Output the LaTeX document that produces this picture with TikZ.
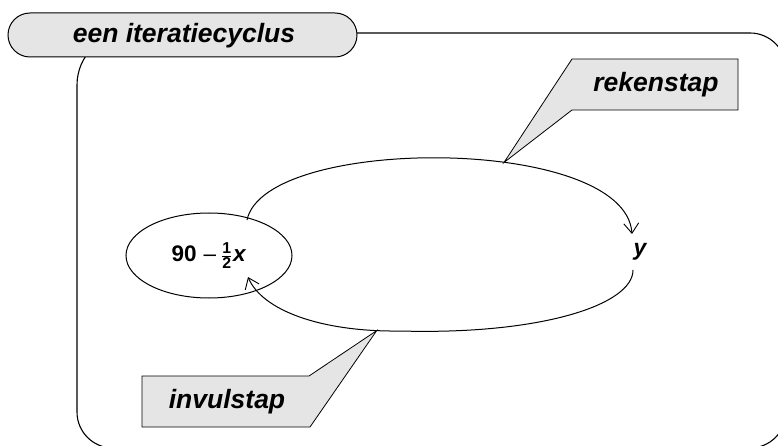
\documentclass[tikz,border=0pt]{standalone}
\usepackage{amsmath}
\usepackage{fontspec}
\setmainfont{Liberation Sans}
\usetikzlibrary{arrows.meta,shapes.geometric}
\begin{document}
\begin{tikzpicture}[x=1pt,y=-1pt,
  lbl/.style={font=\fontsize{26.5}{30}\selectfont\bfseries\itshape, inner sep=0pt, anchor=base},
  panel/.style={draw=black, fill=black!10, line width=0.8pt},
  cyc/.style={line width=1pt, -{Straight Barb[length=10pt,width=15pt,line width=0.9pt]}},
]
\useasboundingbox (0,0) rectangle (778,446);

% outer frame of the cycle
\draw[line width=1.1pt] (77,240) [rounded corners=52pt] |- (400,33)
  [rounded corners=36pt] -| (786,240) |- (400,448) -| cycle;

% title tab
\node[panel, line width=1pt, rounded corners=22pt, minimum width=349pt,
      minimum height=44pt, inner sep=0pt] (tab) at (182.5,35) {};
\node[lbl] (title) at (184,43) {een iteratiecyclus};

% the two states
\node[draw, ellipse, line width=1pt, minimum width=166pt, minimum height=85pt,
      inner sep=0pt, font=\fontsize{22.5}{27}\selectfont\bfseries] (ex) at (209,255.5)
  {90\hspace{7pt}{\mdseries –}\hspace{5pt}$\frac{\textbf{1}}{\textbf{2}}$\hspace{1pt}\textit{x}};
\node[inner sep=0pt, anchor=base, font=\fontsize{23}{27}\selectfont\bfseries\itshape]
  (yv) at (640,255) {y};

% end points of the two arcs
\coordinate (upS) at (247,220);
\coordinate (upE) at (632,234);
\coordinate (loS) at (633,270);
\coordinate (loE) at (248,277);

% computing step: from the expression to y
\draw[cyc] (upS) .. controls (265,135) and (625,135) .. coordinate[pos=0.61] (rkTip) (upE);
% substitution step: from y back into the expression
\draw[cyc] (loS) .. controls (633,305) and (540,335) .. (400,331)
  .. controls (320,332) and (262,310) .. coordinate[pos=0.1] (ivTip) (loE);

% callouts
\draw[panel] (572,59) -- (738,59) -- (738,110) -- (572,110) -- (rkTip) -- cycle;
\node[lbl] (rk) at (656,92) {rekenstap};

\draw[panel] (142,376) -- (309,376) -- (ivTip) -- (310,427) -- (142,427) -- cycle;
\node[lbl] (iv) at (227,408) {invulstap};
\end{tikzpicture}
\end{document}
